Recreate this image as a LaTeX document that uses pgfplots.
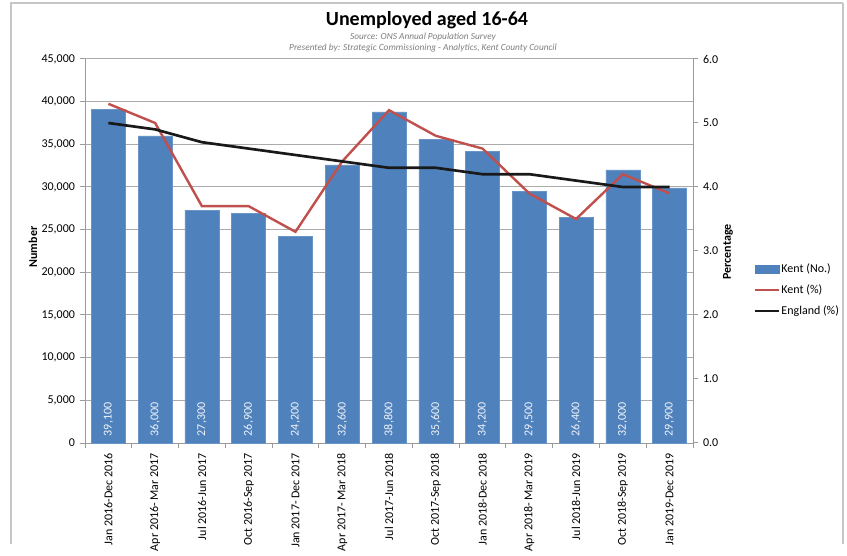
\documentclass[border=0pt]{standalone}
\usepackage{pgfplots}
\pgfplotsset{compat=1.18}
\usepackage{fontspec}
\setmainfont{Carlito}
\definecolor{kentblue}{HTML}{4F81BD}
\definecolor{kentred}{HTML}{C0504D}
\definecolor{gridgray}{HTML}{ABABAB}
\definecolor{axgray}{HTML}{9A9A9A}
\definecolor{subgray}{HTML}{7F7F7F}
\begin{document}
\begin{tikzpicture}[x=1pt,y=1pt]
\fill[white] (0,0) rectangle (635.25,408);
\draw[gray!45, line width=0.9pt] (8.25,0) -- (8.25,405.75) -- (632.25,405.75);
\draw[gray!45, line width=1.6pt] (632.25,405.75) -- (632.25,0);
\node[font=\bfseries\fontsize{15pt}{17pt}\selectfont] at (320.25,393) {Unemployed aged 16-64};
\node[font=\itshape\fontsize{7pt}{8pt}\selectfont, text=subgray] at (317.25,380.5) {Source: ONS Annual Population Survey};
\node[font=\itshape\fontsize{7pt}{8pt}\selectfont, text=subgray] at (317.25,372) {Presented by: Strategic Commissioning - Analytics, Kent County Council};
\node[font=\bfseries\fontsize{9pt}{10pt}\selectfont, rotate=90] at (24.75,222.75) {Number};
\node[font=\bfseries\fontsize{9pt}{10pt}\selectfont, rotate=90] at (546,219) {Percentage};
\begin{axis}[
  at={(63.75pt,75.75pt)}, anchor=south west,
  scale only axis, width=456pt, height=288pt,
  xmin=-0.5, xmax=12.5, ymin=0, ymax=45000,
  ytick={0,5000,...,45000},
  ymajorgrids, grid style={gridgray, line width=0.75pt},
  axis y line*=left, axis x line*=bottom,
  axis line style={axgray, line width=0.75pt, -},
  tick style={axgray, line width=0.75pt},
  tick align=outside,
  major tick length=4pt, minor tick length=4pt,
  xtick={0,...,12},
  minor xtick={-0.5,0.5,...,12.5},
  major x tick style={draw=none},
  xticklabels={Jan 2016-Dec 2016, Apr 2016- Mar 2017, Jul 2016-Jun 2017, Oct 2016-Sep 2017, Jan 2017- Dec 2017, Apr 2017- Mar 2018, Jul 2017-Jun 2018, Oct 2017-Sep 2018, Jan 2018-Dec 2018, Apr 2018- Mar 2019, Jul 2018-Jun 2019, Oct 2018-Sep 2019, Jan 2019-Dec 2019},
  xticklabel style={rotate=90, anchor=east, font=\fontsize{9pt}{10pt}\selectfont},
  yticklabel style={font=\fontsize{9pt}{10pt}\selectfont},
  scaled y ticks=false,
  /pgf/number format/.cd, 1000 sep={,}, assume math mode=true,
  /pgfplots/.cd,
  bar width=25.5pt,
]
\addplot[ybar, fill=kentblue, draw=kentblue!85!white] coordinates {
(0,39100) (1,36000) (2,27300) (3,26900) (4,24200) (5,32600) (6,38800)
(7,35600) (8,34200) (9,29500) (10,26400) (11,32000) (12,29900)};
\addplot[draw=none, mark=none, nodes near coords, point meta=explicit,
  nodes near coords style={rotate=90, anchor=west, text=white!92!kentblue, font=\fontsize{9pt}{10pt}\selectfont, /pgf/number format/.cd, 1000 sep={,}, assume math mode=true}]
 table[meta=v] {
x y v
0 250 39100
1 250 36000
2 250 27300
3 250 26900
4 250 24200
5 250 32600
6 250 38800
7 250 35600
8 250 34200
9 250 29500
10 250 26400
11 250 32000
12 250 29900
};
\end{axis}
\begin{axis}[
  at={(63.75pt,75.75pt)}, anchor=south west,
  scale only axis, width=456pt, height=288pt,
  xmin=-0.5, xmax=12.5, ymin=0, ymax=6,
  axis y line*=right, axis x line=none,
  axis line style={axgray, line width=0.75pt, -},
  tick style={axgray, line width=0.75pt},
  tick align=outside, major tick length=4pt,
  ytick={0,1,...,6},
  yticklabel style={font=\fontsize{9pt}{10pt}\selectfont, /pgf/number format/.cd, fixed, fixed zerofill, precision=1, assume math mode=true},
  legend image code/.code={\draw[#1] (0pt,0pt) -- (18pt,0pt);},
  legend style={at={(1.099,0.47)}, anchor=north west, draw=none, fill=none,
    font=\fontsize{9pt}{10pt}\selectfont, row sep=5.5pt, inner sep=0pt,
    nodes={inner sep=1pt}},
  legend cell align=left,
]
\addlegendimage{legend image code/.code={\fill[kentblue] (0pt,-3pt) rectangle (18pt,3pt);}}
\addlegendentry{Kent (No.)}
\addplot[kentred, line width=1.8pt] coordinates {
(0,5.3) (1,5.0) (2,3.7) (3,3.7) (4,3.3) (5,4.4) (6,5.2) (7,4.8) (8,4.6) (9,3.9) (10,3.5) (11,4.2) (12,3.9)};
\addlegendentry{Kent (\%)}
\addplot[black!90, line width=2pt] coordinates {
(0,5.0) (1,4.9) (2,4.7) (3,4.6) (4,4.5) (5,4.4) (6,4.3) (7,4.3) (8,4.2) (9,4.2) (10,4.1) (11,4.0) (12,4.0)};
\addlegendentry{England (\%)}
\end{axis}
\end{tikzpicture}
\end{document}
